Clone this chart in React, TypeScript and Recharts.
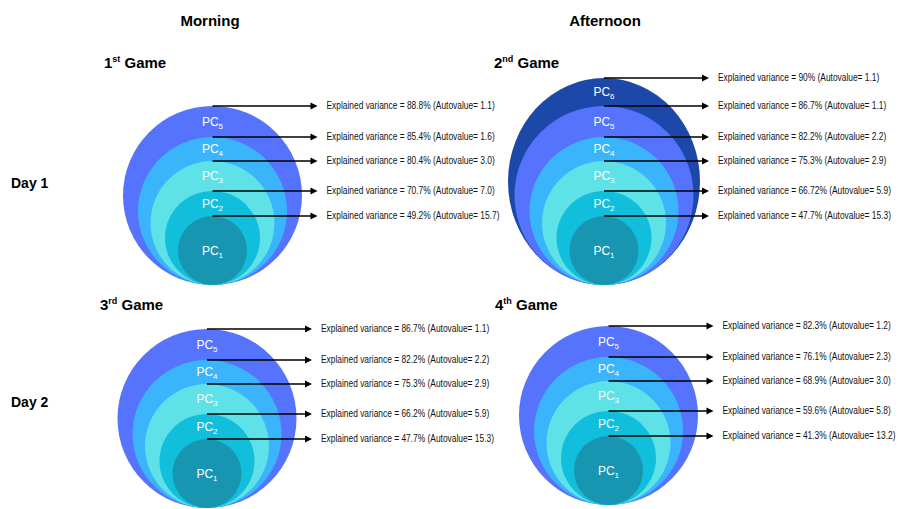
import { ScatterChart, Scatter, XAxis, YAxis } from "recharts";

// values, listed from PC1 upwards
const gameNames = ["1st", "2nd", "3rd", "4th"];
const gameSup = ["st", "nd", "rd", "th"];
const game1Variance = [49.2, 70.7, 80.4, 85.4, 88.8];
const game1Autovalue = [15.7, 7.0, 3.0, 1.6, 1.1];
const game2Variance = [47.7, 66.72, 75.3, 82.2, 86.7, 90];
const game2Autovalue = [15.3, 5.9, 2.9, 2.2, 1.1, 1.1];
const game3Variance = [47.7, 66.2, 75.3, 82.2, 86.7];
const game3Autovalue = [15.3, 5.9, 2.9, 2.2, 1.1];
const game4Variance = [41.3, 59.6, 68.9, 76.1, 82.3];
const game4Autovalue = [13.2, 5.8, 3.0, 2.3, 1.2];
const columnLabels = ["Morning", "Afternoon"];
const rowLabels = ["Day 1", "Day 2"];

const variances = [game1Variance, game2Variance, game3Variance, game4Variance];
const autovalues = [game1Autovalue, game2Autovalue, game3Autovalue, game4Autovalue];

// layout (pixels of the 903x509 canvas)
const W = 903;
const H = 509;
const ringRx = [34.5, 47.5, 62, 74.5, 89.5, 96];
const ringRy = [34.5, 47, 62, 74, 89.5, 103.5];
const ringFill = ["#1895B0", "#11BEDC", "#5EE1E7", "#3AB5FC", "#5573FC", "#1B48A9"];
const panels = [
  { cx: 212.5, bottom: 285, tx: 104, ty: 63 },
  { cx: 604, bottom: 285, tx: 494, ty: 63 },
  { cx: 207, bottom: 508, tx: 100, ty: 305 },
  { cx: 608.5, bottom: 505, tx: 495, ty: 305 },
];
const ARROW = 105;
const SQUEEZE = 0.84; // the original uses a condensed face
const labelFont = "'Liberation Sans', Arial, sans-serif";
const boldFont = "'Liberation Sans', Arial, sans-serif";

const circles = panels.flatMap((p, g) =>
  variances[g]
    .map((_, k) => ({ x: p.cx, y: p.bottom - ringRy[k], rx: ringRx[k], ry: ringRy[k], fill: ringFill[k] }))
    .reverse()
);

const arrows = panels.flatMap((p, g) =>
  variances[g].map((v, k) => ({
    x: p.cx,
    y: p.bottom - 2 * ringRy[k],
    text: `Explained variance = ${v}% (Autovalue= ${autovalues[g][k].toFixed(1)})`,
  }))
);

const pcLabels = panels.flatMap((p, g) =>
  variances[g].map((_, k) => ({
    x: p.cx,
    y: k === 0 ? p.bottom - ringRy[0] : p.bottom - ringRy[k] - ringRy[k - 1],
    n: k + 1,
  }))
);

const titles = [
  ...panels.map((p, g) => ({ x: p.tx, y: p.ty, kind: "game", g })),
  { x: 210, y: 20, kind: "col", g: 0 },
  { x: 605, y: 20, kind: "col", g: 1 },
  { x: 11, y: 183, kind: "row", g: 0 },
  { x: 11, y: 402, kind: "row", g: 1 },
];

const Circle = (props: any) => {
  const { cx, cy, payload } = props;
  return <ellipse cx={cx} cy={cy} rx={payload.rx} ry={payload.ry} fill={payload.fill} />;
};

const Arrow = (props: any) => {
  const { cx, cy, payload } = props;
  const end = cx + ARROW;
  return (
    <g>
      <line x1={cx} y1={cy} x2={end - 6} y2={cy} stroke="#000" strokeWidth={1.6} />
      <polygon points={`${end},${cy} ${end - 7},${cy - 3.5} ${end - 7},${cy + 3.5}`} fill="#000" />
      <g transform={`translate(${end + 9},${cy}) scale(${SQUEEZE},1)`}>
        <text x={0} y={0} dominantBaseline="central" fontSize={10} fontFamily={labelFont} fill="#111">
          {payload.text}
        </text>
      </g>
    </g>
  );
};

const PcLabel = (props: any) => {
  const { cx, cy, payload } = props;
  return (
    <text x={cx} y={cy + 4} textAnchor="middle" fill="#fff" fontSize={12} fontFamily={boldFont}>
      PC
      <tspan fontSize={8} dy={3}>{payload.n}</tspan>
    </text>
  );
};

const Title = (props: any) => {
  const { cx, cy, payload } = props;
  if (payload.kind === "col")
    return (
      <text x={cx} y={cy} textAnchor="middle" dominantBaseline="central" fontSize={15} fontWeight="bold" fontFamily={boldFont} fill="#000">
        {columnLabels[payload.g]}
      </text>
    );
  if (payload.kind === "row")
    return (
      <text x={cx} y={cy} dominantBaseline="central" fontSize={14} fontWeight="bold" fontFamily={boldFont} fill="#000">
        {rowLabels[payload.g]}
      </text>
    );
  const name = gameNames[payload.g];
  return (
    <text x={cx} y={cy + 5} fontSize={15} fontWeight="bold" fontFamily={boldFont} fill="#000">
      {name.slice(0, 1)}
      <tspan fontSize={9} dy={-6}>{gameSup[payload.g]}</tspan>
      <tspan dy={6}> Game</tspan>
    </text>
  );
};

export default function App() {
  return (
    <div style={{ position: "fixed", left: 0, top: 0, width: W, height: H, background: "#fff" }}>
      <ScatterChart width={W} height={H} margin={{ top: 0, right: 0, bottom: 0, left: 0 }}>
        <XAxis type="number" dataKey="x" domain={[0, W]} hide />
        <YAxis type="number" dataKey="y" domain={[0, H]} reversed hide />
        <Scatter data={circles} shape={Circle} isAnimationActive={false} />
        <Scatter data={arrows} shape={Arrow} isAnimationActive={false} />
        <Scatter data={pcLabels} shape={PcLabel} isAnimationActive={false} />
        <Scatter data={titles} shape={Title} isAnimationActive={false} />
      </ScatterChart>
    </div>
  );
}
